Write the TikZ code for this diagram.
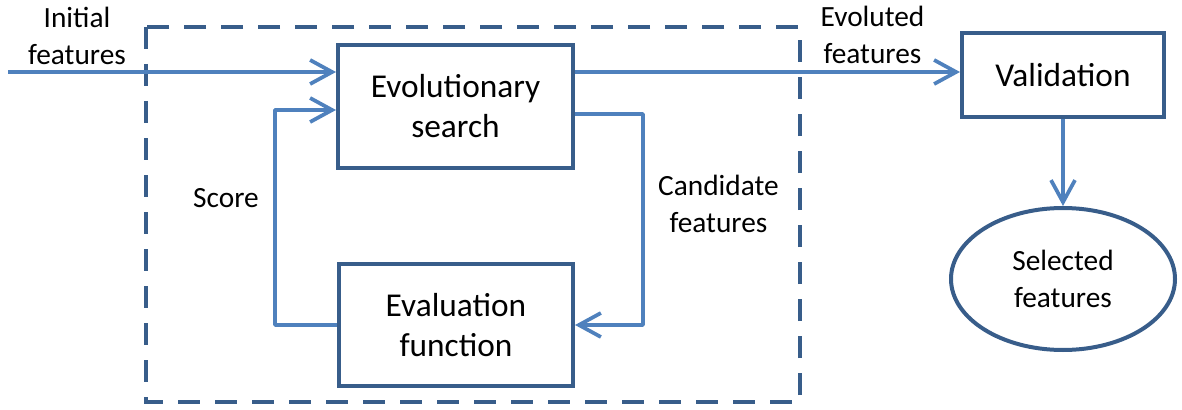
\documentclass[tikz,border=0pt]{standalone}
\usepackage{fontspec}
\setmainfont{Carlito}
\usetikzlibrary{arrows.meta,shapes.geometric}
\definecolor{boxblue}{RGB}{56,93,138}
\definecolor{flowblue}{RGB}{79,129,189}
\newcommand\boxfont{\fontsize{25}{30}\selectfont}
\newcommand\labelfont{\fontsize{22}{27.5}\selectfont}
\begin{document}
\begin{tikzpicture}[x=0.75pt,y=-0.75pt,
  stagebox/.style={draw=boxblue,line width=3pt,inner sep=0pt,align=center,font=\boxfont},
  outcome/.style={ellipse,draw=boxblue,line width=3pt,inner sep=0pt,align=center,font=\labelfont},
  flow/.style={draw=flowblue,line width=2.8pt,line join=round,
    -{Straight Barb[length=16.5pt,width=18pt]}},
  tag/.style={align=center,font=\labelfont,inner sep=0pt},
  groupbox/.style={draw=boxblue,line width=3.2pt,dash pattern=on 16.5pt off 11.25pt}]
\useasboundingbox (0,0) rectangle (1182,410);

% feature-selection loop enclosure
\draw[groupbox] (146,27) rectangle (800,402);

% blocks
\node[stagebox,minimum width=176.25pt,minimum height=92.25pt] (evo) at (455.5,106.5) {Evolutionary\\search};
\node[stagebox,minimum width=175.5pt,minimum height=91.5pt] (eval) at (456,325) {Evaluation\\function};
\node[stagebox,minimum width=151.5pt,minimum height=63pt] (valid) at (1063,75) {Validation};
\node[outcome,minimum width=168pt,minimum height=106.5pt] (sel) at (1063,279) {Selected\\features};

% helper points for the connectors
\coordinate (start) at (8,72);
\coordinate (scorebend) at (275,110);
\coordinate (candbend) at (643,114);

% connectors
\draw[flow] (start) -- (start -| evo.west);
\draw[flow] (eval.west) -| (scorebend) -- (scorebend -| evo.west);
\draw[flow] (candbend -| evo.east) -- (candbend) |- (eval.east);
\draw[flow] (start -| evo.east) -- (start -| valid.west);
\draw[flow] (valid.south) -- (sel.north);

% labels
\node[tag] (initlbl) at (77,36.2) {Initial\\features};
\node[tag] (evollbl) at (872.5,35.2) {Evoluted\\features};
\node[tag] (candlbl) at (718.5,204.2) {Candidate\\features};
\node[tag] (scorelbl) at (226,198.5) {Score};
\end{tikzpicture}
\end{document}
